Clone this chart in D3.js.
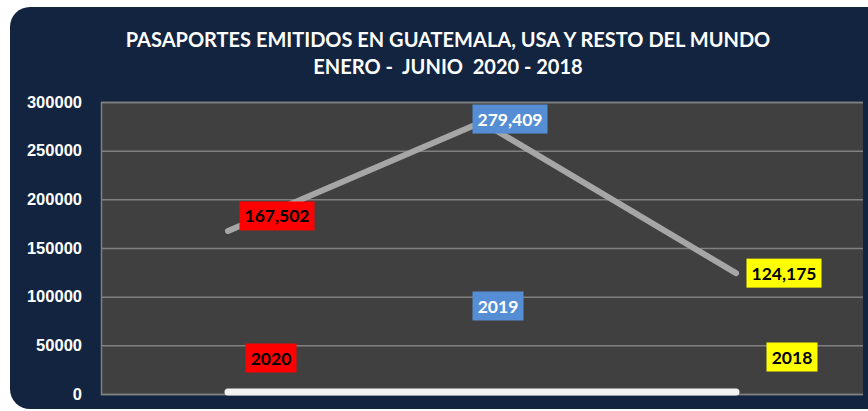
<!DOCTYPE html>
<html>
<head>
<meta charset="utf-8">
<script src="https://cdn.jsdelivr.net/npm/d3@7"></script>
<style>
  body { margin: 0; background: #fff; }
  svg { display: block; font-family: Lato, 'Open Sans', sans-serif; }
</style>
</head>
<body>
<svg width="868" height="411"></svg>
<script>
const categories = ['2020', '2019', '2018']
const pasaportes = [167502, 279409, 124175]
const anios = [2020, 2019, 2018]
const yTicks = [0, 50000, 100000, 150000, 200000, 250000, 300000]
const labelColors = ['#ff0000', '#558ed5', '#ffff00']
const labelText = ['#000', '#fff', '#000']

const svg = d3.select('svg')
const plot = { left: 101, right: 863, top: 102, bottom: 394 }

// navy panel
svg.append('rect').attr('x', 10).attr('y', 7).attr('width', 880).attr('height', 402)
  .attr('rx', 20).attr('fill', '#12243f')

const x = d3.scaleBand().domain(categories).range([plot.left, plot.right])
const y = d3.scaleLinear().domain([0, 300000]).range([plot.bottom, plot.top])

svg.append('rect').attr('x', plot.left).attr('y', plot.top)
  .attr('width', plot.right - plot.left).attr('height', plot.bottom - plot.top)
  .attr('fill', '#404040')

const yAxis = svg.append('g').attr('transform', `translate(${plot.left},0)`)
  .call(d3.axisLeft(y).tickValues(yTicks).tickFormat(d3.format('d'))
    .tickSize(-(plot.right - plot.left)).tickPadding(19))
yAxis.select('.domain').attr('stroke', '#808080').attr('stroke-width', 1.5)
yAxis.selectAll('.tick line').attr('stroke', '#808080').attr('stroke-width', 1.5)
yAxis.selectAll('.tick text').attr('fill', '#fff').attr('font-size', 16.5)
  .attr('font-weight', 'bold')

// title
svg.append('text').attr('x', 448).attr('y', 47).attr('text-anchor', 'middle')
  .attr('fill', '#fff').attr('font-size', 20).attr('font-weight', 'bold')
  .text('PASAPORTES EMITIDOS EN GUATEMALA, USA Y RESTO DEL MUNDO')
svg.append('text').attr('x', 448).attr('y', 74).attr('text-anchor', 'middle')
  .attr('fill', '#fff').attr('font-size', 20).attr('font-weight', 'bold')
  .attr('xml:space', 'preserve')
  .text('ENERO -  JUNIO  2020 - 2018')

const cx = (d, i) => x(categories[i]) + x.bandwidth() / 2
const line = d3.line().x(cx).y(d => y(d))

svg.append('path').datum(anios).attr('d', line).attr('fill', 'none')
  .attr('stroke', '#f2f2f2').attr('stroke-width', 7).attr('stroke-linecap', 'round')
svg.append('path').datum(pasaportes).attr('d', line).attr('fill', 'none')
  .attr('stroke', '#a6a6a6').attr('stroke-width', 6).attr('stroke-linecap', 'round')
  .attr('stroke-linejoin', 'round')

// data labels
const fmt = d3.format(',')
function addLabel(txt, i, lx, ly, w) {
  const g = svg.append('g')
  g.append('rect').attr('x', lx - w / 2).attr('y', ly - 14.5).attr('width', w).attr('height', 29)
    .attr('fill', labelColors[i])
  g.append('text').attr('x', lx).attr('y', ly + 6.5).attr('text-anchor', 'middle')
    .attr('fill', labelText[i]).attr('font-size', 17.5).attr('font-weight', 'bold').text(txt)
}
pasaportes.forEach((v, i) => {
  const dx = [49, 28, 48][i]
  const dy = [-15, -3, 0][i]
  addLabel(fmt(v), i, cx(v, i) + dx, y(v) + dy, 75)
})
anios.forEach((v, i) => {
  const dx = [43, 16, 56][i]
  const ly = [358, 306, 357][i]
  addLabel(String(v), i, cx(v, i) + dx, ly, 51)
})
</script>
</body>
</html>
